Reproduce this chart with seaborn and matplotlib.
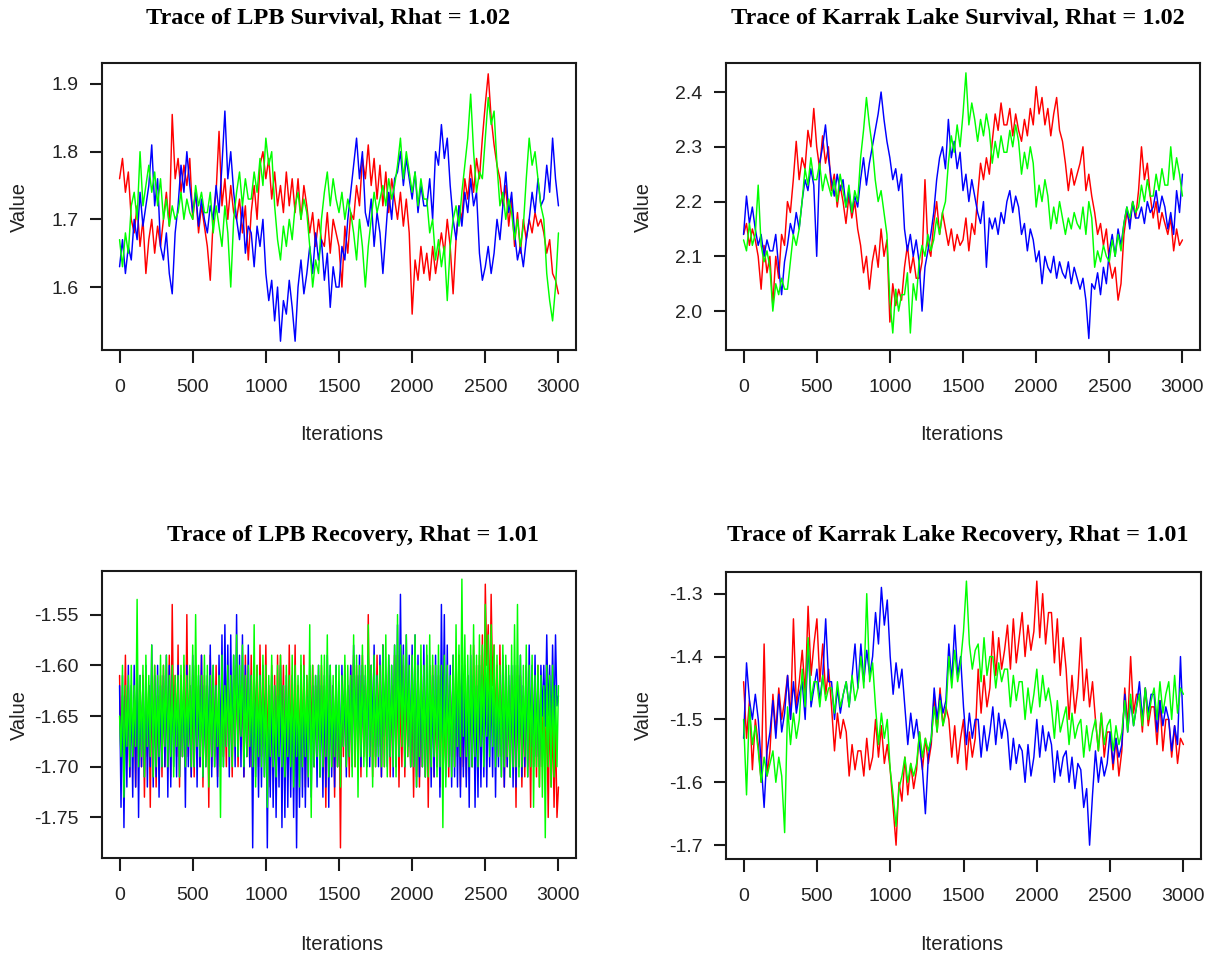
import numpy as np
import matplotlib
matplotlib.use("Agg")
import matplotlib.pyplot as plt
import seaborn as sns

sns.set_theme(style="white")
plt.rcParams['font.family'] = ['Liberation Sans', 'DejaVu Sans']

# iteration grids at which the trace values were read
iter_20 = np.arange(0, 3001, 20)   # 151 points
iter_10 = np.arange(0, 3001, 10)   # 301 points

# ---- Trace of LPB Survival (every 20 iterations) ----
lpb_surv_red = [
    1.76, 1.79, 1.74, 1.77, 1.70, 1.68, 1.72, 1.66, 1.70, 1.62,
    1.67, 1.70, 1.65, 1.69, 1.66, 1.70, 1.74, 1.69, 1.855, 1.76,
    1.79, 1.74, 1.78, 1.75, 1.79, 1.70, 1.74, 1.68, 1.72, 1.69,
    1.66, 1.61, 1.70, 1.74, 1.83, 1.72, 1.76, 1.70, 1.75, 1.71,
    1.70, 1.73, 1.68, 1.72, 1.64, 1.71, 1.75, 1.70, 1.78, 1.80,
    1.76, 1.79, 1.73, 1.77, 1.72, 1.75, 1.71, 1.77, 1.72, 1.76,
    1.71, 1.76, 1.70, 1.75, 1.72, 1.68, 1.71, 1.66, 1.70, 1.67,
    1.66, 1.71, 1.65, 1.70, 1.68, 1.66, 1.60, 1.69, 1.65, 1.71,
    1.70, 1.75, 1.72, 1.79, 1.76, 1.81, 1.75, 1.79, 1.73, 1.78,
    1.72, 1.77, 1.71, 1.76, 1.73, 1.70, 1.74, 1.69, 1.73, 1.68,
    1.56, 1.64, 1.61, 1.66, 1.62, 1.65, 1.61, 1.66, 1.62, 1.65,
    1.68, 1.65, 1.70, 1.66, 1.59, 1.67, 1.72, 1.70, 1.76, 1.73,
    1.78, 1.74, 1.79, 1.76, 1.82, 1.87, 1.915, 1.85, 1.81, 1.78,
    1.76, 1.72, 1.75, 1.69, 1.73, 1.66, 1.71, 1.65, 1.70, 1.67,
    1.70, 1.68, 1.71, 1.69, 1.70, 1.68, 1.65, 1.67, 1.62, 1.61,
    1.59]
lpb_surv_blue = [
    1.63, 1.67, 1.62, 1.66, 1.64, 1.70, 1.67, 1.74, 1.69, 1.72,
    1.75, 1.81, 1.72, 1.76, 1.66, 1.64, 1.68, 1.62, 1.59, 1.68,
    1.72, 1.78, 1.74, 1.80, 1.75, 1.71, 1.74, 1.69, 1.73, 1.70,
    1.68, 1.72, 1.70, 1.75, 1.71, 1.78, 1.86, 1.76, 1.80, 1.74,
    1.70, 1.67, 1.72, 1.65, 1.69, 1.68, 1.63, 1.69, 1.66, 1.70,
    1.62, 1.58, 1.61, 1.55, 1.60, 1.52, 1.58, 1.56, 1.61, 1.57,
    1.52, 1.60, 1.64, 1.59, 1.62, 1.66, 1.62, 1.68, 1.64, 1.67,
    1.61, 1.65, 1.57, 1.63, 1.60, 1.60, 1.66, 1.64, 1.70, 1.74,
    1.78, 1.82, 1.76, 1.80, 1.71, 1.69, 1.73, 1.66, 1.71, 1.68,
    1.62, 1.68, 1.74, 1.70, 1.76, 1.77, 1.80, 1.75, 1.79, 1.76,
    1.73, 1.77, 1.71, 1.75, 1.72, 1.72, 1.76, 1.70, 1.80, 1.78,
    1.84, 1.79, 1.82, 1.75, 1.70, 1.67, 1.72, 1.69, 1.74, 1.71,
    1.76, 1.72, 1.74, 1.65, 1.61, 1.63, 1.66, 1.62, 1.65, 1.70,
    1.67, 1.72, 1.77, 1.71, 1.74, 1.68, 1.64, 1.66, 1.63, 1.67,
    1.70, 1.74, 1.71, 1.76, 1.72, 1.73, 1.78, 1.74, 1.82, 1.76,
    1.72]
lpb_surv_green = [
    1.67, 1.63, 1.68, 1.65, 1.72, 1.74, 1.70, 1.80, 1.72, 1.75,
    1.78, 1.74, 1.77, 1.72, 1.76, 1.70, 1.73, 1.69, 1.72, 1.70,
    1.71, 1.74, 1.70, 1.73, 1.71, 1.70, 1.75, 1.72, 1.74, 1.71,
    1.71, 1.74, 1.68, 1.72, 1.69, 1.66, 1.72, 1.68, 1.60, 1.70,
    1.74, 1.77, 1.72, 1.76, 1.73, 1.73, 1.77, 1.74, 1.79, 1.75,
    1.82, 1.78, 1.80, 1.72, 1.67, 1.64, 1.69, 1.66, 1.70, 1.67,
    1.72, 1.74, 1.70, 1.73, 1.71, 1.66, 1.60, 1.64, 1.62, 1.70,
    1.74, 1.77, 1.72, 1.76, 1.73, 1.71, 1.74, 1.70, 1.73, 1.71,
    1.68, 1.64, 1.70, 1.66, 1.60, 1.66, 1.70, 1.74, 1.71, 1.73,
    1.75, 1.72, 1.76, 1.73, 1.75, 1.78, 1.82, 1.76, 1.80, 1.77,
    1.74, 1.77, 1.72, 1.76, 1.73, 1.73, 1.68, 1.70, 1.64, 1.67,
    1.63, 1.66, 1.58, 1.66, 1.70, 1.72, 1.69, 1.74, 1.78, 1.82,
    1.885, 1.80, 1.74, 1.77, 1.76, 1.82, 1.88, 1.84, 1.86, 1.78,
    1.72, 1.74, 1.70, 1.73, 1.71, 1.67, 1.70, 1.66, 1.69, 1.76,
    1.82, 1.78, 1.80, 1.76, 1.72, 1.70, 1.62, 1.58, 1.55, 1.60,
    1.68]

# ---- Trace of Karrak Lake Survival (every 20 iterations) ----
kl_surv_red = [
    2.14, 2.16, 2.12, 2.15, 2.13, 2.10, 2.04, 2.12, 2.07, 2.10,
    2.01, 2.10, 2.06, 2.14, 2.12, 2.20, 2.18, 2.24, 2.31, 2.24,
    2.28, 2.26, 2.33, 2.30, 2.37, 2.30, 2.26, 2.32, 2.27, 2.30,
    2.22, 2.25, 2.19, 2.23, 2.20, 2.16, 2.21, 2.17, 2.20, 2.15,
    2.12, 2.07, 2.10, 2.04, 2.09, 2.12, 2.08, 2.15, 2.10, 2.13,
    1.98, 2.05, 2.01, 2.04, 2.02, 2.08, 2.12, 2.07, 2.10, 2.06,
    2.06, 2.09, 2.24, 2.12, 2.10, 2.16, 2.20, 2.14, 2.18, 2.15,
    2.12, 2.15, 2.11, 2.14, 2.12, 2.13, 2.17, 2.11, 2.16, 2.14,
    2.21, 2.27, 2.24, 2.28, 2.25, 2.31, 2.36, 2.33, 2.38, 2.34,
    2.34, 2.37, 2.32, 2.36, 2.33, 2.31, 2.35, 2.32, 2.37, 2.34,
    2.41, 2.36, 2.39, 2.34, 2.37, 2.32, 2.36, 2.39, 2.33, 2.31,
    2.27, 2.22, 2.26, 2.23, 2.25, 2.27, 2.30, 2.22, 2.25, 2.21,
    2.18, 2.14, 2.16, 2.12, 2.15, 2.09, 2.06, 2.08, 2.02, 2.05,
    2.14, 2.18, 2.16, 2.20, 2.17, 2.22, 2.30, 2.24, 2.27, 2.21,
    2.17, 2.20, 2.15, 2.18, 2.16, 2.14, 2.17, 2.11, 2.15, 2.12,
    2.13]
kl_surv_blue = [
    2.14, 2.21, 2.16, 2.19, 2.15, 2.12, 2.14, 2.10, 2.13, 2.11,
    2.11, 2.14, 2.08, 2.03, 2.09, 2.12, 2.16, 2.14, 2.18, 2.15,
    2.20, 2.24, 2.22, 2.26, 2.23, 2.10, 2.27, 2.30, 2.34, 2.28,
    2.24, 2.21, 2.25, 2.22, 2.24, 2.19, 2.22, 2.18, 2.21, 2.19,
    2.24, 2.28, 2.23, 2.27, 2.30, 2.33, 2.36, 2.40, 2.35, 2.31,
    2.28, 2.24, 2.26, 2.22, 2.25, 2.15, 2.11, 2.14, 2.10, 2.13,
    2.09, 2.00, 2.08, 2.11, 2.14, 2.18, 2.24, 2.28, 2.30, 2.26,
    2.35, 2.28, 2.31, 2.26, 2.29, 2.22, 2.25, 2.20, 2.24, 2.21,
    2.18, 2.16, 2.20, 2.08, 2.17, 2.15, 2.17, 2.14, 2.18, 2.16,
    2.20, 2.22, 2.18, 2.21, 2.19, 2.14, 2.16, 2.11, 2.15, 2.13,
    2.09, 2.11, 2.05, 2.10, 2.08, 2.07, 2.10, 2.06, 2.09, 2.07,
    2.06, 2.09, 2.05, 2.08, 2.06, 2.04, 2.06, 2.02, 1.95, 2.05,
    2.04, 2.07, 2.03, 2.08, 2.05, 2.11, 2.14, 2.10, 2.15, 2.12,
    2.16, 2.19, 2.15, 2.20, 2.17, 2.17, 2.19, 2.16, 2.20, 2.18,
    2.19, 2.22, 2.18, 2.21, 2.19, 2.15, 2.18, 2.14, 2.22, 2.18,
    2.25]
kl_surv_green = [
    2.13, 2.11, 2.16, 2.12, 2.14, 2.23, 2.12, 2.09, 2.11, 2.08,
    2.00, 2.05, 2.03, 2.06, 2.04, 2.04, 2.09, 2.14, 2.12, 2.15,
    2.20, 2.26, 2.23, 2.28, 2.24, 2.24, 2.27, 2.22, 2.25, 2.23,
    2.21, 2.24, 2.20, 2.25, 2.22, 2.19, 2.23, 2.18, 2.22, 2.20,
    2.28, 2.33, 2.39, 2.34, 2.30, 2.24, 2.20, 2.22, 2.18, 2.14,
    2.02, 1.96, 2.04, 2.00, 2.03, 2.03, 2.07, 1.96, 2.05, 2.02,
    2.09, 2.12, 2.10, 2.14, 2.11, 2.13, 2.17, 2.14, 2.18, 2.20,
    2.27, 2.32, 2.29, 2.34, 2.30, 2.36, 2.435, 2.34, 2.38, 2.35,
    2.31, 2.35, 2.32, 2.36, 2.33, 2.27, 2.31, 2.28, 2.32, 2.29,
    2.29, 2.33, 2.30, 2.34, 2.31, 2.25, 2.29, 2.26, 2.30, 2.27,
    2.19, 2.23, 2.20, 2.24, 2.21, 2.15, 2.19, 2.16, 2.20, 2.17,
    2.14, 2.17, 2.15, 2.18, 2.16, 2.15, 2.19, 2.14, 2.20, 2.17,
    2.08, 2.11, 2.09, 2.12, 2.10, 2.09, 2.13, 2.10, 2.14, 2.11,
    2.16, 2.19, 2.17, 2.20, 2.18, 2.19, 2.23, 2.20, 2.24, 2.21,
    2.21, 2.25, 2.22, 2.26, 2.23, 2.23, 2.30, 2.24, 2.28, 2.25,
    2.21]

# ---- Trace of LPB Recovery (every 10 iterations) ----
lpb_rec_red = [
    -1.61, -1.70, -1.63, -1.68, -1.59, -1.69, -1.62, -1.71, -1.64, -1.68,
    -1.63, -1.72, -1.60, -1.69, -1.62, -1.70, -1.61, -1.73, -1.63, -1.69,
    -1.62, -1.74, -1.61, -1.71, -1.60, -1.72, -1.63, -1.70, -1.61, -1.71,
    -1.60, -1.70, -1.62, -1.68, -1.59, -1.71, -1.54, -1.67, -1.61, -1.69,
    -1.58, -1.72, -1.61, -1.69, -1.60, -1.70, -1.55, -1.69, -1.62, -1.71,
    -1.61, -1.71, -1.60, -1.68, -1.62, -1.70, -1.59, -1.72, -1.61, -1.69,
    -1.62, -1.74, -1.59, -1.70, -1.61, -1.69, -1.60, -1.71, -1.62, -1.68,
    -1.61, -1.69, -1.63, -1.70, -1.60, -1.68, -1.62, -1.71, -1.61, -1.67,
    -1.60, -1.70, -1.62, -1.68, -1.61, -1.71, -1.59, -1.69, -1.62, -1.70,
    -1.59, -1.71, -1.61, -1.66, -1.60, -1.70, -1.58, -1.69, -1.61, -1.68,
    -1.58, -1.69, -1.62, -1.72, -1.60, -1.70, -1.61, -1.71, -1.59, -1.69,
    -1.59, -1.68, -1.60, -1.70, -1.62, -1.71, -1.58, -1.69, -1.61, -1.70,
    -1.58, -1.71, -1.62, -1.69, -1.60, -1.70, -1.59, -1.72, -1.61, -1.68,
    -1.61, -1.67, -1.60, -1.70, -1.62, -1.69, -1.61, -1.71, -1.60, -1.69,
    -1.62, -1.74, -1.60, -1.71, -1.61, -1.70, -1.62, -1.73, -1.61, -1.70,
    -1.63, -1.78, -1.61, -1.69, -1.60, -1.70, -1.62, -1.71, -1.60, -1.68,
    -1.59, -1.70, -1.60, -1.68, -1.61, -1.71, -1.59, -1.69, -1.62, -1.70,
    -1.55, -1.69, -1.60, -1.71, -1.61, -1.70, -1.59, -1.68, -1.60, -1.71,
    -1.58, -1.70, -1.61, -1.68, -1.60, -1.71, -1.62, -1.69, -1.59, -1.70,
    -1.59, -1.72, -1.62, -1.70, -1.60, -1.71, -1.61, -1.69, -1.62, -1.70,
    -1.63, -1.73, -1.60, -1.71, -1.62, -1.72, -1.61, -1.70, -1.60, -1.71,
    -1.61, -1.74, -1.62, -1.69, -1.60, -1.71, -1.63, -1.70, -1.61, -1.72,
    -1.60, -1.72, -1.64, -1.70, -1.61, -1.71, -1.62, -1.69, -1.60, -1.70,
    -1.61, -1.69, -1.59, -1.72, -1.62, -1.70, -1.60, -1.71, -1.61, -1.69,
    -1.62, -1.70, -1.58, -1.68, -1.60, -1.71, -1.59, -1.69, -1.57, -1.68,
    -1.52, -1.60, -1.56, -1.66, -1.53, -1.62, -1.58, -1.67, -1.60, -1.69,
    -1.58, -1.69, -1.61, -1.72, -1.60, -1.70, -1.62, -1.71, -1.61, -1.69,
    -1.62, -1.74, -1.60, -1.70, -1.61, -1.72, -1.63, -1.71, -1.60, -1.70,
    -1.63, -1.74, -1.61, -1.70, -1.62, -1.71, -1.60, -1.72, -1.61, -1.70,
    -1.62, -1.70, -1.64, -1.75, -1.63, -1.72, -1.65, -1.74, -1.66, -1.75,
    -1.72]
lpb_rec_blue = [
    -1.62, -1.74, -1.61, -1.76, -1.63, -1.72, -1.60, -1.71, -1.62, -1.73,
    -1.60, -1.72, -1.59, -1.75, -1.61, -1.70, -1.62, -1.71, -1.60, -1.72,
    -1.62, -1.70, -1.58, -1.72, -1.61, -1.71, -1.60, -1.73, -1.62, -1.70,
    -1.61, -1.70, -1.59, -1.73, -1.60, -1.72, -1.61, -1.70, -1.62, -1.71,
    -1.60, -1.71, -1.62, -1.69, -1.61, -1.74, -1.60, -1.70, -1.62, -1.71,
    -1.59, -1.70, -1.60, -1.72, -1.61, -1.70, -1.59, -1.71, -1.62, -1.70,
    -1.61, -1.69, -1.58, -1.71, -1.60, -1.70, -1.62, -1.72, -1.59, -1.70,
    -1.57, -1.70, -1.56, -1.68, -1.58, -1.71, -1.57, -1.69, -1.59, -1.70,
    -1.55, -1.69, -1.59, -1.70, -1.57, -1.71, -1.60, -1.69, -1.58, -1.70,
    -1.61, -1.78, -1.60, -1.71, -1.62, -1.73, -1.61, -1.72, -1.60, -1.71,
    -1.62, -1.78, -1.63, -1.73, -1.61, -1.74, -1.62, -1.75, -1.63, -1.72,
    -1.60, -1.76, -1.62, -1.75, -1.61, -1.74, -1.63, -1.73, -1.62, -1.75,
    -1.61, -1.78, -1.63, -1.74, -1.62, -1.73, -1.61, -1.74, -1.63, -1.72,
    -1.60, -1.73, -1.62, -1.70, -1.61, -1.72, -1.60, -1.71, -1.62, -1.73,
    -1.61, -1.72, -1.59, -1.74, -1.60, -1.71, -1.62, -1.72, -1.60, -1.70,
    -1.62, -1.70, -1.60, -1.68, -1.61, -1.71, -1.62, -1.69, -1.60, -1.70,
    -1.58, -1.67, -1.61, -1.69, -1.59, -1.70, -1.60, -1.68, -1.61, -1.70,
    -1.59, -1.70, -1.60, -1.68, -1.58, -1.69, -1.61, -1.70, -1.59, -1.71,
    -1.58, -1.67, -1.61, -1.70, -1.59, -1.69, -1.60, -1.71, -1.58, -1.70,
    -1.56, -1.69, -1.53, -1.67, -1.58, -1.70, -1.57, -1.68, -1.59, -1.70,
    -1.58, -1.70, -1.57, -1.72, -1.59, -1.71, -1.60, -1.70, -1.58, -1.71,
    -1.59, -1.70, -1.60, -1.72, -1.61, -1.71, -1.59, -1.70, -1.60, -1.73,
    -1.54, -1.68, -1.55, -1.71, -1.58, -1.70, -1.60, -1.72, -1.59, -1.71,
    -1.60, -1.72, -1.61, -1.73, -1.60, -1.71, -1.62, -1.72, -1.61, -1.74,
    -1.59, -1.70, -1.61, -1.74, -1.62, -1.73, -1.60, -1.72, -1.61, -1.71,
    -1.60, -1.72, -1.62, -1.70, -1.61, -1.71, -1.60, -1.73, -1.62, -1.70,
    -1.61, -1.71, -1.59, -1.72, -1.60, -1.70, -1.61, -1.71, -1.60, -1.72,
    -1.60, -1.72, -1.61, -1.70, -1.59, -1.71, -1.62, -1.70, -1.60, -1.71,
    -1.58, -1.68, -1.60, -1.70, -1.59, -1.69, -1.61, -1.70, -1.60, -1.65,
    -1.60, -1.66, -1.57, -1.65, -1.60, -1.67, -1.58, -1.66, -1.57, -1.64,
    -1.63]
lpb_rec_green = [
    -1.65, -1.69, -1.60, -1.73, -1.62, -1.68, -1.61, -1.70, -1.60, -1.69,
    -1.62, -1.68, -1.535, -1.70, -1.61, -1.69, -1.60, -1.71, -1.59, -1.68,
    -1.61, -1.69, -1.58, -1.71, -1.60, -1.70, -1.61, -1.69, -1.59, -1.70,
    -1.60, -1.68, -1.59, -1.70, -1.61, -1.69, -1.60, -1.71, -1.61, -1.68,
    -1.61, -1.71, -1.60, -1.69, -1.59, -1.70, -1.61, -1.68, -1.60, -1.70,
    -1.58, -1.70, -1.55, -1.68, -1.60, -1.69, -1.61, -1.71, -1.59, -1.70,
    -1.60, -1.72, -1.61, -1.69, -1.60, -1.70, -1.62, -1.68, -1.61, -1.75,
    -1.59, -1.70, -1.62, -1.68, -1.60, -1.69, -1.61, -1.70, -1.59, -1.68,
    -1.57, -1.69, -1.60, -1.67, -1.58, -1.70, -1.61, -1.69, -1.60, -1.68,
    -1.61, -1.70, -1.56, -1.72, -1.60, -1.69, -1.61, -1.70, -1.59, -1.71,
    -1.60, -1.74, -1.61, -1.69, -1.59, -1.70, -1.62, -1.71, -1.60, -1.69,
    -1.59, -1.70, -1.62, -1.71, -1.60, -1.69, -1.61, -1.70, -1.59, -1.72,
    -1.60, -1.69, -1.61, -1.72, -1.59, -1.70, -1.60, -1.69, -1.61, -1.71,
    -1.56, -1.75, -1.60, -1.70, -1.61, -1.69, -1.60, -1.71, -1.59, -1.70,
    -1.59, -1.69, -1.57, -1.71, -1.60, -1.70, -1.61, -1.69, -1.60, -1.70,
    -1.60, -1.72, -1.61, -1.68, -1.59, -1.70, -1.60, -1.69, -1.61, -1.71,
    -1.57, -1.70, -1.59, -1.73, -1.60, -1.69, -1.58, -1.70, -1.60, -1.71,
    -1.56, -1.69, -1.60, -1.72, -1.59, -1.70, -1.61, -1.69, -1.60, -1.70,
    -1.58, -1.70, -1.57, -1.71, -1.59, -1.69, -1.60, -1.70, -1.58, -1.71,
    -1.55, -1.69, -1.58, -1.68, -1.59, -1.70, -1.57, -1.69, -1.60, -1.70,
    -1.59, -1.70, -1.57, -1.72, -1.60, -1.69, -1.58, -1.70, -1.60, -1.71,
    -1.58, -1.71, -1.57, -1.70, -1.59, -1.69, -1.60, -1.71, -1.58, -1.70,
    -1.60, -1.76, -1.59, -1.72, -1.60, -1.70, -1.61, -1.71, -1.59, -1.70,
    -1.56, -1.68, -1.58, -1.69, -1.515, -1.67, -1.57, -1.69, -1.59, -1.70,
    -1.58, -1.70, -1.56, -1.69, -1.59, -1.70, -1.57, -1.68, -1.58, -1.70,
    -1.54, -1.67, -1.57, -1.69, -1.56, -1.68, -1.58, -1.70, -1.59, -1.69,
    -1.60, -1.71, -1.58, -1.70, -1.59, -1.69, -1.60, -1.71, -1.58, -1.70,
    -1.56, -1.70, -1.54, -1.71, -1.59, -1.70, -1.60, -1.69, -1.58, -1.71,
    -1.60, -1.70, -1.59, -1.74, -1.61, -1.70, -1.60, -1.72, -1.61, -1.73,
    -1.62, -1.77, -1.60, -1.70, -1.61, -1.72, -1.60, -1.71, -1.62, -1.70,
    -1.62]

# ---- Trace of Karrak Lake Recovery (every 20 iterations) ----
kl_rec_red = [
    -1.44, -1.53, -1.47, -1.58, -1.50, -1.54, -1.60, -1.38, -1.59, -1.55,
    -1.46, -1.52, -1.45, -1.50, -1.47, -1.43, -1.50, -1.34, -1.48, -1.44,
    -1.39, -1.46, -1.32, -1.43, -1.38, -1.34, -1.44, -1.38, -1.46, -1.42,
    -1.48, -1.55, -1.49, -1.53, -1.50, -1.52, -1.59, -1.54, -1.58, -1.55,
    -1.55, -1.59, -1.53, -1.58, -1.56, -1.50, -1.56, -1.51, -1.57, -1.54,
    -1.58, -1.64, -1.70, -1.60, -1.63, -1.56, -1.62, -1.57, -1.61, -1.58,
    -1.52, -1.58, -1.53, -1.57, -1.54, -1.46, -1.52, -1.45, -1.51, -1.48,
    -1.50, -1.56, -1.51, -1.57, -1.53, -1.50, -1.58, -1.52, -1.56, -1.53,
    -1.42, -1.49, -1.43, -1.48, -1.45, -1.36, -1.43, -1.37, -1.42, -1.39,
    -1.35, -1.42, -1.34, -1.41, -1.37, -1.33, -1.40, -1.35, -1.39, -1.36,
    -1.28, -1.37, -1.30, -1.38, -1.33, -1.33, -1.41, -1.34, -1.43, -1.37,
    -1.42, -1.50, -1.43, -1.49, -1.45, -1.37, -1.47, -1.42, -1.48, -1.44,
    -1.50, -1.55, -1.49, -1.56, -1.52, -1.52, -1.58, -1.53, -1.59, -1.55,
    -1.45, -1.51, -1.40, -1.49, -1.46, -1.46, -1.52, -1.45, -1.51, -1.48,
    -1.48, -1.54, -1.47, -1.55, -1.50, -1.50, -1.56, -1.51, -1.57, -1.53,
    -1.54]
kl_rec_blue = [
    -1.53, -1.41, -1.47, -1.50, -1.46, -1.50, -1.57, -1.64, -1.55, -1.52,
    -1.47, -1.53, -1.46, -1.52, -1.49, -1.43, -1.50, -1.44, -1.49, -1.46,
    -1.44, -1.50, -1.38, -1.48, -1.45, -1.42, -1.47, -1.43, -1.34, -1.44,
    -1.44, -1.50, -1.45, -1.49, -1.46, -1.44, -1.48, -1.43, -1.38, -1.45,
    -1.38, -1.44, -1.39, -1.43, -1.40, -1.33, -1.38, -1.29, -1.35, -1.31,
    -1.40, -1.46, -1.41, -1.45, -1.42, -1.48, -1.54, -1.49, -1.53, -1.50,
    -1.54, -1.58, -1.65, -1.56, -1.53, -1.45, -1.50, -1.46, -1.49, -1.47,
    -1.38, -1.44, -1.35, -1.43, -1.40, -1.48, -1.54, -1.49, -1.53, -1.50,
    -1.50, -1.56, -1.51, -1.55, -1.52, -1.48, -1.54, -1.49, -1.53, -1.50,
    -1.52, -1.58, -1.53, -1.57, -1.54, -1.55, -1.60, -1.54, -1.59, -1.56,
    -1.50, -1.56, -1.51, -1.55, -1.52, -1.54, -1.60, -1.55, -1.59, -1.56,
    -1.55, -1.60, -1.56, -1.61, -1.57, -1.58, -1.64, -1.61, -1.70, -1.62,
    -1.55, -1.60, -1.56, -1.59, -1.57, -1.52, -1.57, -1.53, -1.56, -1.54,
    -1.46, -1.52, -1.47, -1.51, -1.48, -1.44, -1.50, -1.45, -1.49, -1.46,
    -1.46, -1.52, -1.47, -1.51, -1.48, -1.50, -1.55, -1.51, -1.54, -1.40,
    -1.52]
kl_rec_green = [
    -1.50, -1.62, -1.48, -1.54, -1.51, -1.55, -1.60, -1.56, -1.59, -1.57,
    -1.55, -1.60, -1.56, -1.59, -1.68, -1.48, -1.54, -1.49, -1.53, -1.50,
    -1.42, -1.48, -1.37, -1.47, -1.44, -1.44, -1.48, -1.43, -1.47, -1.45,
    -1.45, -1.49, -1.44, -1.48, -1.46, -1.44, -1.48, -1.43, -1.47, -1.45,
    -1.40, -1.45, -1.30, -1.44, -1.41, -1.48, -1.54, -1.49, -1.53, -1.50,
    -1.58, -1.62, -1.67, -1.61, -1.59, -1.56, -1.60, -1.57, -1.59, -1.57,
    -1.52, -1.56, -1.53, -1.55, -1.53, -1.48, -1.52, -1.47, -1.51, -1.49,
    -1.40, -1.45, -1.39, -1.44, -1.41, -1.36, -1.28, -1.38, -1.42, -1.39,
    -1.38, -1.44, -1.37, -1.43, -1.40, -1.40, -1.45, -1.41, -1.44, -1.42,
    -1.42, -1.48, -1.43, -1.47, -1.44, -1.44, -1.50, -1.45, -1.49, -1.46,
    -1.42, -1.48, -1.43, -1.47, -1.45, -1.48, -1.53, -1.47, -1.52, -1.50,
    -1.48, -1.54, -1.49, -1.53, -1.51, -1.50, -1.56, -1.51, -1.55, -1.52,
    -1.50, -1.55, -1.49, -1.54, -1.51, -1.50, -1.55, -1.51, -1.54, -1.52,
    -1.47, -1.52, -1.46, -1.51, -1.48, -1.46, -1.51, -1.45, -1.50, -1.47,
    -1.45, -1.50, -1.44, -1.49, -1.46, -1.44, -1.50, -1.43, -1.49, -1.45,
    -1.46]

titles = ["Trace of LPB Survival, Rhat = 1.02",
          "Trace of Karrak Lake Survival, Rhat = 1.02",
          "Trace of LPB Recovery, Rhat = 1.01",
          "Trace of Karrak Lake Recovery, Rhat = 1.01"]
chain_colors = ["#FF0000", "#0000FF", "#00FF00"]
xtick_vals = [0, 500, 1000, 1500, 2000, 2500, 3000]
ytick_sets = [
    ([1.6, 1.7, 1.8, 1.9], ["1.6", "1.7", "1.8", "1.9"]),
    ([2.0, 2.1, 2.2, 2.3, 2.4], ["2.0", "2.1", "2.2", "2.3", "2.4"]),
    ([-1.75, -1.70, -1.65, -1.60, -1.55], ["-1.75", "-1.70", "-1.65", "-1.60", "-1.55"]),
    ([-1.7, -1.6, -1.5, -1.4, -1.3], ["-1.7", "-1.6", "-1.5", "-1.4", "-1.3"]),
]
ylims = [(1.507, 1.931), (1.929, 2.453), (-1.790, -1.507), (-1.722, -1.2655)]
grids = [iter_20, iter_20, iter_10, iter_20]
series = [
    (lpb_surv_red, lpb_surv_blue, lpb_surv_green),
    (kl_surv_red, kl_surv_blue, kl_surv_green),
    (lpb_rec_red, lpb_rec_blue, lpb_rec_green),
    (kl_rec_red, kl_rec_blue, kl_rec_green),
]

W, H = 1217, 956
fig = plt.figure(figsize=(W / 100, H / 100), dpi=100, facecolor="white")

# layout in pixels: (left, top, right, bottom)
boxes = [(102, 63, 576, 350), (726, 63, 1200, 350),
         (102, 571, 576, 858), (726, 572, 1201, 859)]
title_pos = [(328, 18), (958, 18), (353, 536), (958, 536)]
value_x = [19, 643, 19, 643]
iter_pos = [(342, 435), (962, 435), (342, 945), (962, 944)]

dark = "#1a1a1a"
for i in range(4):
    l, t, r, b = boxes[i]
    ax = fig.add_axes([l / W, 1 - b / H, (r - l) / W, (b - t) / H])
    for vals, col in zip(series[i], chain_colors):
        sns.lineplot(x=grids[i], y=vals, color=col, linewidth=1.05,
                     ax=ax, legend=False, estimator=None, sort=False)
    ax.set_xlim(-120, 3120)
    ax.set_ylim(*ylims[i])
    ax.set_xticks(xtick_vals)
    ax.set_xticklabels([str(v) for v in xtick_vals])
    ax.set_yticks(ytick_sets[i][0])
    ax.set_yticklabels(ytick_sets[i][1])
    ax.set_xlabel("")
    ax.set_ylabel("")
    for s in ax.spines.values():
        s.set_visible(True)
        s.set_color(dark)
        s.set_linewidth(1.5)
    ax.tick_params(axis="both", which="major", direction="out", length=9,
                   width=1.5, color=dark, labelsize=14, labelcolor="#222222",
                   bottom=True, left=True, top=False, right=False)
    ax.tick_params(axis="x", pad=12)
    ax.tick_params(axis="y", pad=8)
    ax.grid(False)

    tx, ty = title_pos[i]
    fig.text(tx / W, 1 - ty / H, titles[i], ha="center", va="center",
             fontsize=17.5, fontweight="bold", family="Liberation Serif",
             color="black")
    fig.text(value_x[i] / W, 1 - ((t + b) / 2) / H, "Value", rotation=90,
             ha="center", va="center", fontsize=14.5, color="#222222")
    ix, iy = iter_pos[i]
    fig.text(ix / W, 1 - iy / H, "Iterations", ha="center", va="center",
             fontsize=14.5, color="#222222")

fig.savefig("out.png", dpi=100, facecolor="white")
